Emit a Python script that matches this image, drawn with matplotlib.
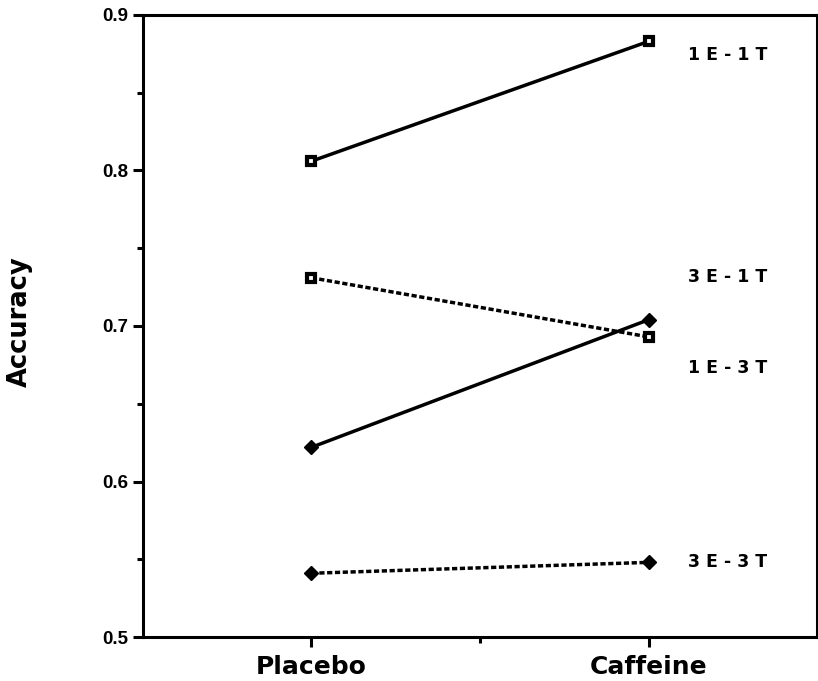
import matplotlib
matplotlib.use("Agg")
from matplotlib import pyplot as plt

# conditions on the x axis
conditions = ["Placebo", "Caffeine"]

# accuracy, one list per group
acc_1e1t = [0.806, 0.883]
acc_3e1t = [0.731, 0.693]
acc_1e3t = [0.622, 0.704]
acc_3e3t = [0.541, 0.548]

group_names = ["1 E - 1 T", "3 E - 1 T", "1 E - 3 T", "3 E - 3 T"]
# vertical position of the right-hand group labels
label_y = [0.874, 0.7315, 0.673, 0.548]

yticks = [0.5, 0.6, 0.7, 0.8, 0.9]

plt.rcParams["font.family"] = "DejaVu Sans"
plt.rcParams["font.weight"] = "bold"

fig = plt.figure(figsize=(8.18, 6.81), dpi=100)
ax = fig.add_axes([0.1748, 0.0646, 0.8240, 0.9134])

x = [1, 2]
lw = 2.5
dots = (0, (1.5, 0.75))

# E-1T groups: open squares with thick edges
sq = dict(marker="s", ms=6.2, mfc="white", mec="black", mew=3)
ax.plot(x, acc_1e1t, color="black", lw=lw, ls="-", zorder=3, **sq)
ax.plot(x, acc_3e1t, color="black", lw=lw, ls=dots, zorder=3, **sq)
# E-3T groups: filled diamonds
dm = dict(marker="D", ms=7, mfc="black", mec="black")
ax.plot(x, acc_1e3t, color="black", lw=lw, ls="-", zorder=3, **dm)
ax.plot(x, acc_3e3t, color="black", lw=lw, ls=dots, zorder=3, **dm)

for name, yy in zip(group_names, label_y):
    ax.text(2.116, yy, name, fontsize=12.5, fontweight="bold",
            ha="left", va="center")

ax.set_xlim(0.5, 2.5)
ax.set_ylim(0.5, 0.9)
ax.set_xticks(x)
ax.set_xticklabels(conditions, fontsize=18, fontweight="bold")
ax.set_xticks([1.5], minor=True)
ax.set_yticks(yticks)
ax.set_yticklabels([f"{t:.1f}" for t in yticks], fontsize=13.5,
                   fontweight="bold", family="Liberation Sans")
ax.set_yticks([0.55, 0.65, 0.75, 0.85], minor=True)

ax.tick_params(axis="both", which="major", direction="out", length=7,
               width=2.2, color="black")
ax.tick_params(axis="y", which="major", pad=3.5)
ax.tick_params(axis="x", which="major", pad=6)
ax.tick_params(axis="both", which="minor", direction="out", length=4.5,
               width=2.2, color="black")
ax.tick_params(top=False, right=False, which="both")

for side in ["left", "bottom", "top", "right"]:
    ax.spines[side].set_linewidth(2.2)

fig.text(20 / 818, 1 - 322 / 681, "Accuracy", rotation=90, fontsize=18.5,
         fontweight="bold", ha="center", va="center")

fig.savefig("out.png", dpi=100)
